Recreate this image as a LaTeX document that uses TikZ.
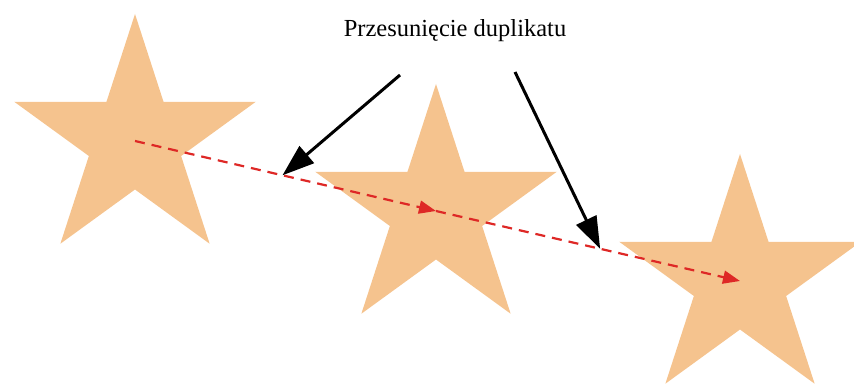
\documentclass[tikz,border=0pt]{standalone}
\usepackage{fontspec}
\setmainfont{Liberation Serif}
\usetikzlibrary{shapes.geometric,arrows.meta,calc}
\definecolor{starfill}{RGB}{245,195,142}
\definecolor{shiftred}{RGB}{222,40,38}
\begin{document}
\begin{tikzpicture}[x=1pt, y=-1pt,
  starshape/.style={star, star points=5, star point ratio=2.618, inner sep=0pt,
    minimum size=254pt, fill=starfill, draw=none},
  shiftline/.style={shiftred, line width=2.2pt, dash pattern=on 10pt off 7pt,
    -{Triangle[length=17pt,width=13pt]}},
  pointer/.style={black, line width=3pt, -{Triangle[length=32pt,width=22pt]}}]
  \useasboundingbox (0,0) rectangle (854,390);
  % Stars (original and duplicates)
  \node[starshape] (s1) at (135,141) {};
  \node[starshape] (s2) at (436,211) {};
  \node[starshape] (s3) at (740,281) {};
  % Shift of the duplicate
  \draw[shiftline] (s1.center) -- (s2.center);
  \draw[shiftline] (s2.center) -- (s3.center);
  % Caption and pointers
  \node[font=\fontsize{24.5}{29}\selectfont] (caption) at (455,31) {Przesunięcie duplikatu};
  \coordinate (p1) at (400,75);
  \coordinate (p2) at (515,72);
  \coordinate (m1) at ($(s1.center)!0.49!(s2.center)$);
  \coordinate (m2) at ($(s2.center)!0.54!(s3.center)$);
  \draw[pointer] (p1) -- (m1);
  \draw[pointer] (p2) -- (m2);
\end{tikzpicture}
\end{document}
